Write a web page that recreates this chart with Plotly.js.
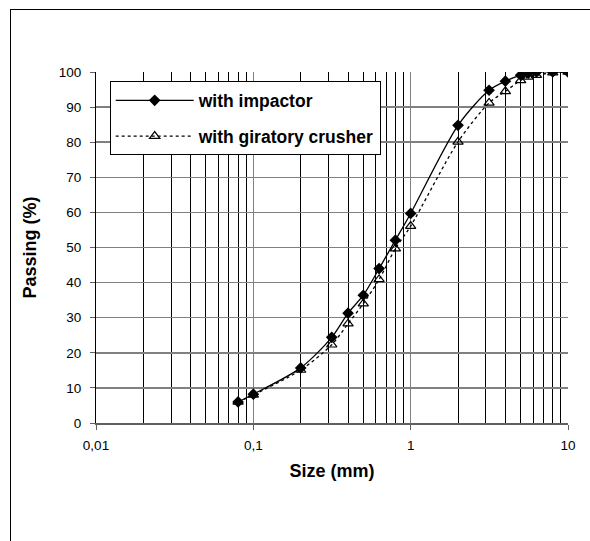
<!DOCTYPE html>
<html>
<head>
<meta charset="utf-8">
<script src="https://cdn.plot.ly/plotly-3.0.1.min.js"></script>
<style>
  html, body { margin: 0; padding: 0; background: #fff; }
  #frame { position: absolute; left: 10px; top: 9px; width: 640px; height: 600px;
           border-left: 1px solid #000; border-top: 1px solid #000; }
  #chart { position: absolute; left: 0; top: 0; width: 590px; height: 541px; }
</style>
</head>
<body>
<div id="frame"></div>
<div id="chart"></div>
<script>
// Sieve sizes (mm)
const sizes = [0.08, 0.1, 0.2, 0.315, 0.4, 0.5, 0.63, 0.8, 1, 2, 3.15, 4, 5, 5.6, 6.3, 8, 10];
// Passing (%)
const impactor = [6.0, 8.2, 15.7, 24.4, 31.3, 36.4, 44.0, 52.1, 59.7, 84.8, 94.8, 97.4, 99.1, 99.7, 100, 100, 100];
const giratory = [6.0, 8.0, 15.1, 22.3, 28.3, 34.0, 40.9, 49.7, 56.1, 80.1, 91.2, 94.5, 97.6, 98.6, 99.1, 99.8, 100];
// Tick labels
const xTickVals = [0.01, 0.1, 1, 10];
const xTickText = ['0,01', '0,1', '1', '10'];
const yTickVals = [0, 10, 20, 30, 40, 50, 60, 70, 80, 90, 100];

const traces = [
  {
    x: sizes, y: impactor, name: 'with impactor', type: 'scatter', mode: 'lines+markers',
    legendgroup: 'a',
    line: { color: '#000', width: 1.3, shape: 'spline', smoothing: 0.8 },
    marker: { symbol: 'diamond', size: 9, color: '#000' }
  },
  {
    x: sizes, y: giratory, name: 'with giratory crusher', type: 'scatter', mode: 'lines+markers',
    legendgroup: 'b',
    line: { color: '#000', width: 1.3, dash: 'dot', shape: 'spline', smoothing: 0.8 },
    marker: { symbol: 'triangle-up-open', size: 9, color: '#000', line: { width: 1.2, color: '#000' } }
  }
];

const layout = {
  width: 590, height: 541,
  margin: { l: 95.5, r: 22, t: 71.6, b: 118.3, pad: 0 },
  paper_bgcolor: 'rgba(0,0,0,0)', plot_bgcolor: '#fff',
  font: { family: 'Liberation Sans, Arial, sans-serif', color: '#000', size: 13 },
  showlegend: true,
  legend: {
    x: 0.029, y: 0.973, xanchor: 'left', yanchor: 'top',
    bordercolor: '#000', borderwidth: 1, bgcolor: '#fff',
    font: { size: 17.5, family: 'Liberation Sans, Arial, sans-serif', weight: 'bold' },
    traceorder: 'grouped', tracegroupgap: 10, itemwidth: 78
  },
  xaxis: {
    type: 'log', range: [-2, 1], tickvals: xTickVals, ticktext: xTickText,
    showgrid: true, gridcolor: '#808080', gridwidth: 1.5,
    minor: { dtick: 'D1', showgrid: true, gridcolor: '#000', gridwidth: 1, ticks: '' },
    showline: true, linecolor: '#606060', linewidth: 2, mirror: false,
    ticks: 'outside', ticklen: 5, tickcolor: '#606060', tickwidth: 1,
    ticklabelstandoff: 4,
    tickfont: { size: 13.5 }, zeroline: false,
    title: { text: 'Size (mm)', font: { size: 18, weight: 'bold' }, standoff: 12 }
  },
  yaxis: {
    range: [0, 100], tickvals: yTickVals,
    showgrid: true, gridcolor: '#808080', gridwidth: 1.5,
    showline: true, linecolor: '#000', linewidth: 1,
    ticks: 'outside', ticklen: 5, tickcolor: '#606060', tickwidth: 1,
    ticklabelstandoff: 6,
    tickfont: { size: 13.5 }, zeroline: false,
    title: { text: 'Passing (%)', font: { size: 18, weight: 'bold' }, standoff: 17 }
  }
};

Plotly.newPlot('chart', traces, layout, { displayModeBar: false, staticPlot: true });
</script>
</body>
</html>
